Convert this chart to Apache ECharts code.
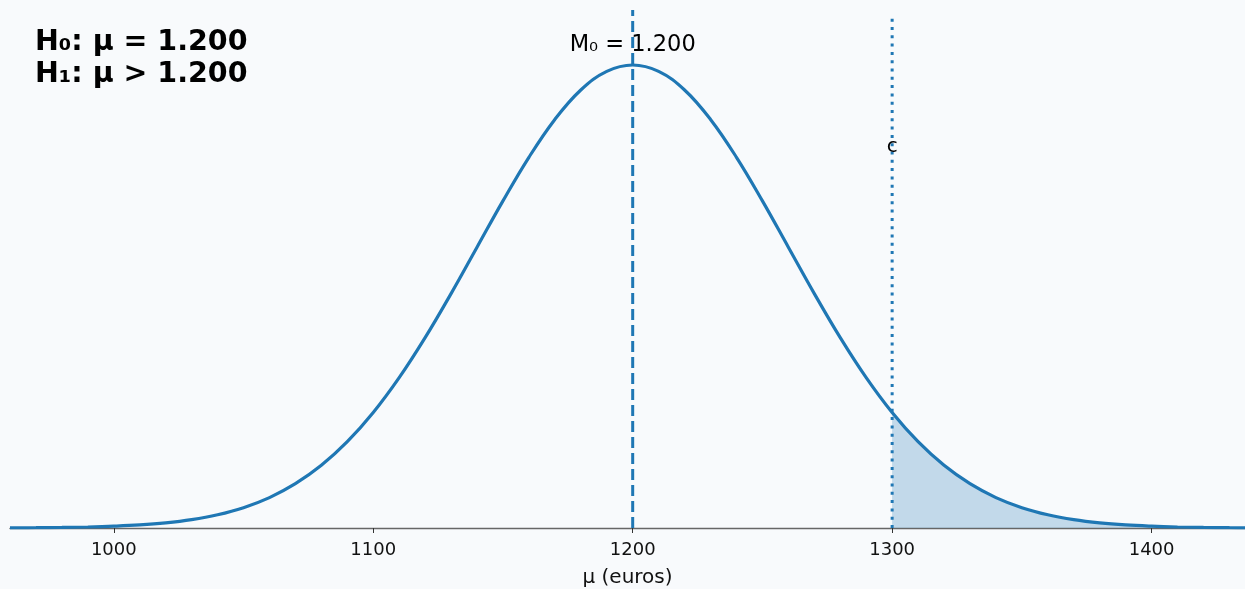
<!DOCTYPE html>
<html>
<head>
<meta charset="utf-8">
<script src="https://cdn.jsdelivr.net/npm/echarts@6/dist/echarts.min.js"></script>
<style>
  html, body { margin: 0; padding: 0; background: #f8fafc; }
  #chart { width: 1245px; height: 589px; }
</style>
</head>
<body>
<div id="chart"></div>
<script>
// mean under H0 and critical value
var mu0 = 1200;
var critC = 1300;

// x positions (euros) and relative density (peak = 1)
var muValues = [960, 970, 980, 990, 1000, 1010, 1020, 1030, 1040, 1050, 1060, 1070, 1080, 1090,
    1100, 1110, 1120, 1130, 1140, 1150, 1160, 1170, 1180, 1190, 1200, 1210, 1220, 1230, 1240,
    1250, 1260, 1270, 1280, 1290, 1300, 1310, 1320, 1330, 1340, 1350, 1360, 1370, 1380, 1390,
    1400, 1410, 1420, 1430, 1440];
var density = [0.0003, 0.0006, 0.0012, 0.0022, 0.0039, 0.0066, 0.0111, 0.0181, 0.0286, 0.0439,
    0.0657, 0.0957, 0.1353, 0.1863, 0.2494, 0.3247, 0.4111, 0.5063, 0.6065, 0.7066, 0.8007,
    0.8825, 0.9460, 0.9862, 1.0000, 0.9862, 0.9460, 0.8825, 0.8007, 0.7066, 0.6065, 0.5063,
    0.4111, 0.3247, 0.2494, 0.1863, 0.1353, 0.0957, 0.0657, 0.0439, 0.0286, 0.0181, 0.0111,
    0.0066, 0.0039, 0.0022, 0.0012, 0.0006, 0.0003];

var tickValues = [1000, 1100, 1200, 1300, 1400];
var hypothesisText = 'H\u2080: \u03bc = 1.200\nH\u2081: \u03bc > 1.200';
var meanLabel = 'M\u2080 = 1.200';
var critLabel = 'c';

var yMax = 1.1188;

var curve = muValues.map(function (m, i) { return [m, density[i]]; });
var tail = curve.filter(function (p) { return p[0] >= critC; });

var option = {
    backgroundColor: '#f8fafc',
    animation: false,
    title: {
        text: hypothesisText,
        left: 35,
        top: 27,
        padding: 0,
        textStyle: {
            fontFamily: 'DejaVu Sans',
            fontSize: 28.5,
            fontWeight: 'bold',
            lineHeight: 32,
            color: '#000'
        }
    },
    grid: {
        left: 10,
        right: 0,
        top: 10,
        bottom: 61,
        containLabel: false,
        outerBoundsMode: 'none'
    },
    xAxis: {
        type: 'value',
        min: 960,
        max: 1436,
        name: '\u03bc (euros)',
        nameLocation: 'middle',
        nameGap: 40,
        nameTextStyle: {
            fontFamily: 'DejaVu Sans',
            fontSize: 20,
            color: '#111'
        },
        axisLine: { lineStyle: { color: '#666', width: 1.3 } },
        axisTick: {
            customValues: tickValues,
            length: 5,
            lineStyle: { color: '#333', width: 1 }
        },
        axisLabel: {
            customValues: tickValues,
            margin: 13,
            fontFamily: 'DejaVu Sans',
            fontSize: 18,
            color: '#111',
            formatter: function (v) { return String(v); }
        },
        splitLine: { show: false }
    },
    yAxis: {
        type: 'value',
        min: 0,
        max: yMax,
        show: false
    },
    series: [
        {
            name: 'tail',
            type: 'line',
            data: tail,
            symbol: 'none',
            smooth: 0.4,
            lineStyle: { width: 0 },
            areaStyle: { color: 'rgba(31,119,180,0.25)', opacity: 1 },
            z: 1
        },
        {
            name: 'density',
            type: 'line',
            data: curve,
            symbol: 'none',
            smooth: 0.4,
            clip: true,
            lineStyle: { color: '#1f77b4', width: 3.2 },
            z: 3
        },
        {
            name: 'mean',
            type: 'line',
            data: [[mu0, 0], [mu0, yMax]],
            symbol: 'none',
            lineStyle: { color: '#1f77b4', width: 3, type: [11, 5] },
            z: 2
        },
        {
            name: 'critical',
            type: 'line',
            data: [[critC, 0], [critC, 1.110]],
            symbol: 'none',
            lineStyle: { color: '#1f77b4', width: 3, type: [3, 5.3] },
            z: 2
        },
        {
            name: 'labels',
            type: 'scatter',
            symbolSize: 0,
            itemStyle: { opacity: 1 },
            data: [
                { value: [mu0, 1.0432], label: { formatter: meanLabel, fontSize: 22.5 } },
                { value: [critC, 0.8229], label: { formatter: critLabel, fontSize: 20 } }
            ],
            label: {
                show: true,
                position: 'inside',
                fontFamily: 'DejaVu Sans',
                color: '#000'
            },
            z: 4
        }
    ]
};

var myChart = echarts.init(document.getElementById('chart'));
myChart.setOption(option);
</script>
</body>
</html>
